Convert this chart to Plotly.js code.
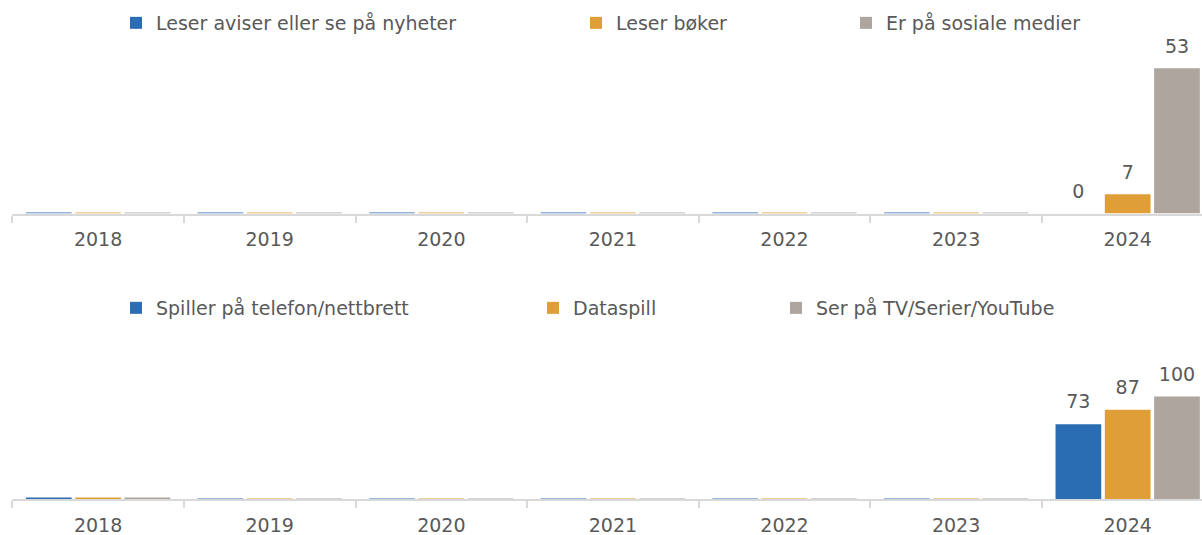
<!DOCTYPE html>
<html>
<head>
<meta charset="utf-8">
<script src="https://cdn.plot.ly/plotly-3.0.1.min.js"></script>
<style>
html,body{margin:0;padding:0;background:#fff;overflow:hidden;}
#chart{width:1202px;height:535px;}
</style>
</head>
<body>
<div id="chart"></div>
<script>
// ---- data ----
const years = ['2018', '2019', '2020', '2021', '2022', '2023', '2024'];
const labelYear = '2024';

const topNames = ['Leser aviser eller se på nyheter', 'Leser bøker', 'Er på sosiale medier'];
const topNews   = [0.4, 0.4, 0.4, 0.4, 0.4, 0.4, 0];
const topBooks  = [0.4, 0.4, 0.4, 0.4, 0.4, 0.4, 7];
const topSocial = [0.4, 0.4, 0.4, 0.4, 0.4, 0.4, 53];

const bottomNames = ['Spiller på telefon/nettbrett', 'Dataspill', 'Ser på TV/Serier/YouTube'];
const bottomMobile = [1.5, 0.5, 0.5, 0.5, 0.5, 0.5, 73];
const bottomGames  = [1.5, 0.5, 0.5, 0.5, 0.5, 0.5, 87];
const bottomTV     = [1.5, 0.5, 0.5, 0.5, 0.5, 0.5, 100];

// ---- style ----
const colors = ['#2b6db3', '#e09e37', '#ada59e'];
const FONT = 'DejaVu Sans';
const TXT = '#595959';
const FS = 19;
const W = 1202, H = 535;

// legend text x positions (px) and row y centres (px)
const legendTextX = [[156, 616, 886], [156, 573, 816]];
const legendRowY = [23, 308];

const panels = [
  {names: topNames, series: [topNews, topBooks, topSocial], xa: 'x', ya: 'y'},
  {names: bottomNames, series: [bottomMobile, bottomGames, bottomTV], xa: 'x2', ya: 'y2'}
];

const traces = [];
const legends = {};
let legendIdx = 0;
panels.forEach((p, pi) => {
  p.series.forEach((vals, si) => {
    legendIdx++;
    const lgKey = legendIdx === 1 ? 'legend' : 'legend' + legendIdx;
    traces.push({
      type: 'bar', x: years, y: vals, name: p.names[si],
      xaxis: p.xa, yaxis: p.ya, offsetgroup: 'g' + si,
      marker: {color: colors[si], line: {width: 0}},
      legend: lgKey, hoverinfo: 'skip'
    });
    traces.push({
      type: 'scatter', mode: 'markers+text', x: years,
      y: vals.map((v, i) => years[i] === labelYear ? v : null),
      text: vals.map((v, i) => years[i] === labelYear ? String(v) : ''),
      textposition: 'top center',
      textfont: {family: FONT, size: FS, color: TXT},
      marker: {size: 16, opacity: 0},
      xaxis: p.xa, yaxis: p.ya, offsetgroup: 'g' + si,
      showlegend: false, cliponaxis: false, hoverinfo: 'skip'
    });
    legends[lgKey] = {
      x: (legendTextX[pi][si] - 40) / W, xref: 'container', xanchor: 'left',
      y: 1 - legendRowY[pi] / H, yref: 'container', yanchor: 'middle',
      orientation: 'h', bgcolor: 'rgba(0,0,0,0)', borderwidth: 0,
      font: {family: FONT, size: FS, color: TXT}
    };
  });
});

const xaxisBase = {
  type: 'category', range: [-0.5, 6.433], domain: [12.3 / W, 1],
  showline: true, linecolor: '#d9d9d9', linewidth: 2,
  ticks: 'outside', tickson: 'boundaries', ticklen: 7, tickwidth: 2, tickcolor: '#d9d9d9',
  ticklabelstandoff: 8,
  tickfont: {family: FONT, size: FS, color: TXT},
  showgrid: false, zeroline: false, fixedrange: true, automargin: false
};

const layout = Object.assign({
  width: W, height: H,
  margin: {l: 0, r: 0, t: 0, b: 0, pad: 0, autoexpand: false},
  paper_bgcolor: '#fff', plot_bgcolor: '#fff',
  barmode: 'group', bargap: 0.138, bargroupgap: 0.073,
  scattermode: 'group',
  font: {family: FONT, size: FS, color: TXT},
  xaxis: Object.assign({}, xaxisBase, {anchor: 'y'}),
  xaxis2: Object.assign({}, xaxisBase, {anchor: 'y2'}),
  yaxis: {domain: [(H - 213.5) / H, (H - 49.1) / H], range: [0, 60], visible: false, fixedrange: true},
  yaxis2: {domain: [(H - 499) / H, (H - 386.25) / H], range: [0, 110], visible: false, fixedrange: true},
  showlegend: true
}, legends);

Plotly.newPlot('chart', traces, layout, {displayModeBar: false, staticPlot: true});
</script>
</body>
</html>
